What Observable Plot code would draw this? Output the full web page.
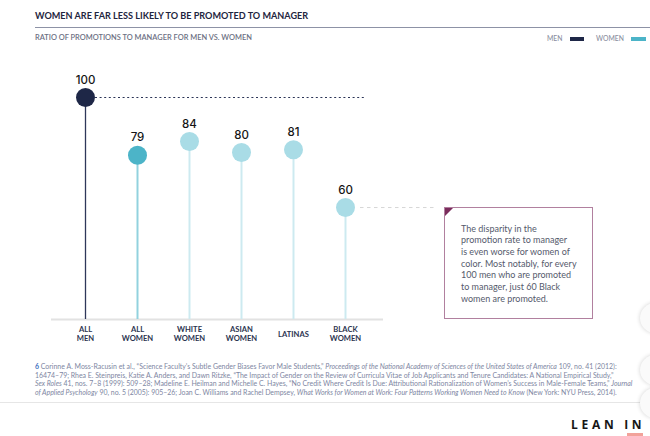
<!DOCTYPE html>
<html>
<head>
<meta charset="utf-8">
<script src="https://cdn.jsdelivr.net/npm/d3@7"></script>
<script src="https://cdn.jsdelivr.net/npm/@observablehq/plot@0.6"></script>
<style>
  html, body { margin: 0; padding: 0; background: #fff; width: 650px; height: 436px; overflow: hidden; position: relative; font-family: Lato, "Open Sans", sans-serif; }
  .abs { position: absolute; white-space: nowrap; }
  #title { left: 35px; top: 10px; font-size: 9.1px; font-weight: 700; color: #1e2540; }
  #rule { left: 35px; top: 27px; width: 615px; height: 0; border-top: 1.5px solid #8d92a6; }
  #subtitle { left: 35px; top: 33px; font-size: 7.45px; font-weight: 600; color: #6c7083; }
  .leg { top: 34px; font-size: 6.8px; color: #8a8ea0; font-weight: 500; }
  .sw { position: absolute; top: 37px; height: 4px; }
  #chart { position: absolute; left: 0; top: 55px; }
  #note { position: absolute; left: 444px; width: 147px; height: 110px; border: 1.5px solid #b1809f; box-sizing: content-box; }
  #note .tri { position: absolute; left: 0; top: 0; width: 0; height: 0; border-top: 8px solid #7b2c5c; border-right: 8px solid transparent; }
  #note .txt { position: absolute; left: 16px; top: 15px; font-size: 9px; line-height: 11.7px; color: #555a6c; font-family: Lato, sans-serif; }
  #foot { left: 35px; top: 362px; font-size: 6.95px; line-height: 8.7px; color: #7e86a2; }
  #foot b { color: #3f6fc0; }
  #bottomline { left: 0; top: 402px; width: 640px; height: 0; border-top: 1px solid #e6e6e6; }
  .knob { position: absolute; width: 30px; height: 30px; border-radius: 50%; background: #fafafa; box-shadow: 0 0 4px rgba(0,0,0,0.18); }
  #leanin { left: 571px; top: 416px; font-size: 12px; font-weight: 700; letter-spacing: 3.7px; color: #161616; font-family: "Open Sans", sans-serif; }
</style>
</head>
<body>
<div class="abs" id="title">WOMEN ARE FAR LESS LIKELY TO BE PROMOTED TO MANAGER</div>
<div class="abs" id="rule"></div>
<div class="abs" id="subtitle">RATIO OF PROMOTIONS TO MANAGER FOR MEN VS. WOMEN</div>
<div class="abs leg" style="left:547px">MEN</div>
<div class="sw" style="left:570px;width:14px;background:#1e2747"></div>
<div class="abs leg" style="left:596px">WOMEN</div>
<div class="sw" style="left:631px;width:15px;background:#4cb4c8"></div>
<div id="chart"></div>
<div id="note"><div class="tri"></div><div class="txt">The disparity in the<br>promotion rate to manager<br>is even worse for women of<br>color. Most notably, for every<br>100 men who are promoted<br>to manager, just 60 Black<br>women are promoted.</div></div>
<div class="abs" id="foot"><b>6</b> Corinne A. Moss-Racusin et al., “Science Faculty’s Subtle Gender Biases Favor Male Students,” <i>Proceedings of the National Academy of Sciences of the United States of America</i> 109, no. 41 (2012):<br>16474–79; Rhea E. Steinpreis, Katie A. Anders, and Dawn Ritzke, “The Impact of Gender on the Review of Curricula Vitae of Job Applicants and Tenure Candidates: A National Empirical Study,”<br><i>Sex Roles</i> 41, nos. 7–8 (1999): 509–28; Madeline E. Heilman and Michelle C. Hayes, “No Credit Where Credit Is Due: Attributional Rationalization of Women’s Success in Male-Female Teams,” <i>Journal</i><br><i>of Applied Psychology</i> 90, no. 5 (2005): 905–26; Joan C. Williams and Rachel Dempsey, <i>What Works for Women at Work: Four Patterns Working Women Need to Know</i> (New York: NYU Press, 2014).</div>
<div class="abs" id="bottomline"></div>
<div class="knob" style="left:640px;top:303px"></div>
<div class="knob" style="left:640px;top:355px"></div>
<div class="knob" style="left:640px;top:388px"></div>
<div class="abs" id="leanin">LEAN IN</div>
<div style="position:absolute;left:627px;top:433px;width:16px;height:3px;background:#f2a29a"></div>
<script>
const categories = ["ALL\nMEN", "ALL\nWOMEN", "WHITE\nWOMEN", "ASIAN\nWOMEN", "LATINAS", "BLACK\nWOMEN"];
const values = [100, 79, 84, 80, 81, 60];
const groups = ["men", "women", "sub", "sub", "sub", "sub"];
const referenceValue = 100;
const calloutValue = 60;
const calloutCategory = "BLACK\nWOMEN";
const yMin = 19.3;

const data = categories.map((c, i) => ({cat: c, value: values[i], group: groups[i]}));
const dotColor = {men: "#1e2747", women: "#4cb4c8", sub: "#a9dce6"};
const stemColor = {men: "#2e3759", women: "#92d2de", sub: "#cdeaf0"};
const stemWidth = {men: 1.3, women: 2, sub: 2};

const marks = [
  Plot.ruleY([yMin], {stroke: "#e2e2e2", strokeWidth: 2}),
  Plot.ruleY([referenceValue], {y: d => d, x1: () => categories[0], x2: () => categories[categories.length - 1], insetLeft: 10, insetRight: -20, stroke: "#2b3456", strokeWidth: 1, strokeDasharray: "2,2.6"}),
  Plot.ruleY([calloutValue], {y: d => d, x1: () => calloutCategory, x2: () => calloutCategory, insetLeft: 15, insetRight: -92, stroke: "#d6d6d6", strokeWidth: 1, strokeDasharray: "3.5,3.5"})
];
for (const g of ["sub", "women", "men"]) {
  const sub = data.filter(d => d.group === g);
  marks.push(Plot.ruleX(sub, {x: "cat", y1: () => yMin, y2: "value", stroke: stemColor[g], strokeWidth: stemWidth[g]}));
  marks.push(Plot.dot(sub, {x: "cat", y: "value", r: 9.5, fill: dotColor[g], stroke: "none"}));
}
marks.push(Plot.text(data, {x: "cat", y: "value", text: d => String(d.value), dy: -17.5, fontSize: 11.5, fontWeight: 500, fill: "#151515", fontFamily: "Inter, sans-serif"}));
marks.push(Plot.text(data, {x: "cat", frameAnchor: "bottom", text: "cat", dy: 14, lineAnchor: "middle", lineHeight: 1.27, fontSize: 7.6, fontWeight: 700, fill: "#2c3450", fontFamily: "Lato, sans-serif"}));

const chart = Plot.plot({
  width: 650,
  height: 290,
  marginLeft: 51,
  marginRight: 267,
  marginTop: 42,
  marginBottom: 26,
  style: {background: "transparent", overflow: "visible"},
  x: {type: "point", domain: categories, padding: 0, insetLeft: 33, insetRight: 38, axis: null},
  y: {domain: [yMin, 100], axis: null},
  marks
});
document.getElementById("chart").appendChild(chart);

// position callout box on the y scale
const yPos = chart.scale("y").apply(calloutValue) + 55;
const note = document.getElementById("note");
note.style.top = (yPos - 0.5) + "px";
</script>
</body>
</html>
